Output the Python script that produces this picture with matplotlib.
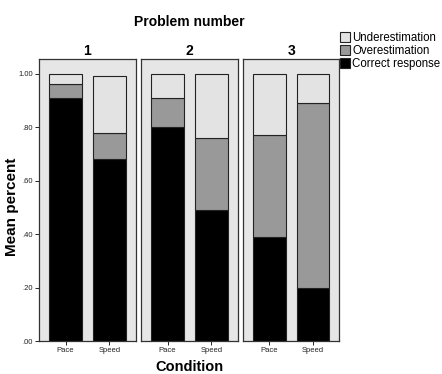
import numpy as np
import matplotlib.pyplot as plt
from matplotlib.patches import Patch

plt.rcParams['font.family'] = ['Liberation Sans', 'DejaVu Sans']

problems = ['1', '2', '3']
conditions = ['Pace', 'Speed']
# values per problem: [Pace, Speed]
correct = {'1': [0.91, 0.68], '2': [0.80, 0.49], '3': [0.39, 0.20]}
over = {'1': [0.05, 0.10], '2': [0.11, 0.27], '3': [0.38, 0.69]}
under = {'1': [0.04, 0.21], '2': [0.09, 0.24], '3': [0.23, 0.11]}
yticks = [0, 0.2, 0.4, 0.6, 0.8, 1.0]
ytick_labels = ['.00', '.20', '.40', '.60', '.80', '1.00']

c_under = '#e3e3e3'
c_over = '#999999'
c_corr = '#000000'
edge = '#222222'

fig = plt.figure(figsize=(4.42, 3.74), dpi=100)
W, H = 442, 374
lefts = [39.3, 141.3, 243.0]
pw = 96.4
bottom = (H - 341) / H
height = (341 - 59.3) / H

x = np.arange(len(conditions))
for i, p in enumerate(problems):
    ax = fig.add_axes([lefts[i] / W, bottom, pw / W, height])
    ax.set_facecolor('#e6e6e6')
    c = np.array(correct[p])
    o = np.array(over[p])
    u = np.array(under[p])
    kw = dict(width=0.74, edgecolor=edge, linewidth=0.8, zorder=2)
    ax.bar(x, c, color=c_corr, **kw)
    ax.bar(x, o, bottom=c, color=c_over, **kw)
    ax.bar(x, u, bottom=c + o, color=c_under, **kw)
    ax.set_xlim(-0.6, 1.6)
    ax.set_ylim(0, 1.054)
    ax.set_xticks(x)
    ax.set_xticklabels(conditions, fontsize=5.5, color='#222222')
    ax.tick_params(axis='x', length=3, width=0.6, pad=1.5)
    if i == 0:
        ax.set_yticks(yticks)
        ax.set_yticklabels(ytick_labels, fontsize=5.5, color='#222222')
        ax.tick_params(axis='y', length=3, width=0.6, pad=1.5)
    else:
        ax.set_yticks([])
    for s in ax.spines.values():
        s.set_color('#333333')
        s.set_linewidth(0.9)
    ax.set_title(p, fontsize=10, fontweight='bold', pad=3)

fig.text(189 / W, 1 - 22 / H, 'Problem number', ha='center', va='center',
         fontsize=10, fontweight='bold')
fig.text(189 / W, 1 - 367 / H, 'Condition', ha='center', va='center',
         fontsize=10.5, fontweight='bold')
fig.text(12 / W, 1 - 207 / H, 'Mean percent', ha='center', va='center',
         rotation=90, fontsize=11, fontweight='bold')

handles = [Patch(facecolor=c_under, edgecolor=edge, linewidth=0.8),
           Patch(facecolor=c_over, edgecolor=edge, linewidth=0.8),
           Patch(facecolor=c_corr, edgecolor=edge, linewidth=0.8)]
labels = ['Underestimation', 'Overestimation', 'Correct response']
fig.legend(handles, labels, loc='upper left', bbox_to_anchor=(340 / W, 1 - 32 / H),
           frameon=False, fontsize=8.3, borderpad=0, borderaxespad=0,
           handlelength=0.9, handleheight=0.9, handletextpad=0.15,
           labelspacing=0.08)

fig.savefig('out.png', dpi=100)
